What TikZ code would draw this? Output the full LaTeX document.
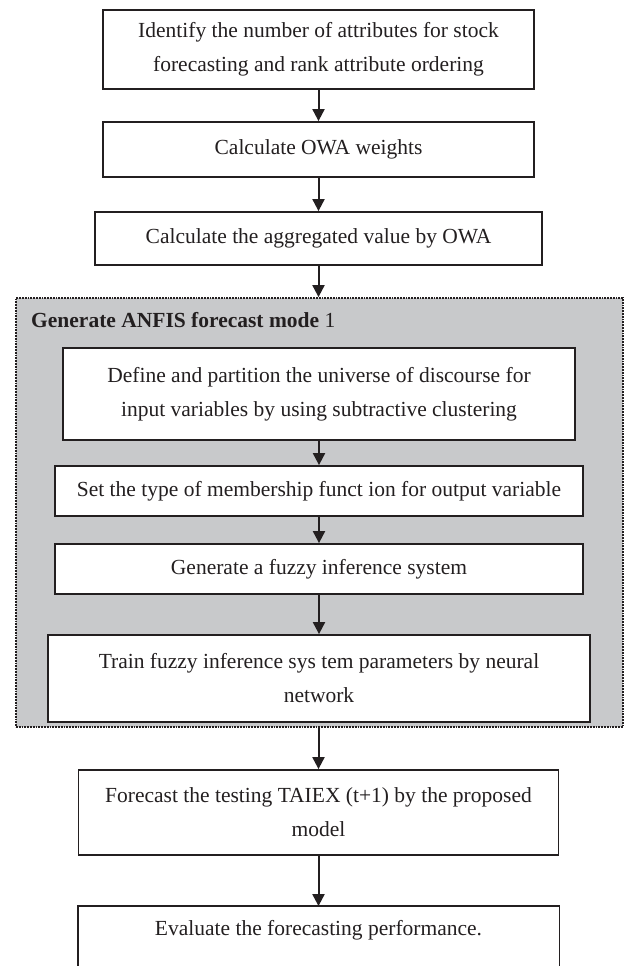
\documentclass[tikz,border=0pt]{standalone}
\usepackage{fontspec}
\setmainfont{Liberation Serif}
\usetikzlibrary{arrows.meta}
\definecolor{inkc}{HTML}{231F20}
\definecolor{panelgray}{HTML}{C8C9CB}
\begin{document}
\begin{tikzpicture}[x=1pt,y=-1pt,
  txt/.style={font=\fontsize{21.5}{34}\selectfont, text=inkc},
  stepbox/.style={txt, draw=inkc, line width=1.8pt, fill=white, inner sep=0pt, align=center},
  arr/.style={draw=inkc, line width=2pt, -{Triangle[length=12pt,width=12pt]}},
  panel/.style={draw=inkc, fill=panelgray, line width=1.8pt, densely dotted, inner sep=0pt}]
\useasboundingbox (0,0) rectangle (624,966);
\clip (0,0) rectangle (624,966);
% steps before the panel
\node[stepbox, minimum width=431pt, minimum height=79pt] (b1) at (318.5,49.5)
  {Identify the number of attributes for stock\\forecasting and rank attribute ordering};
\node[stepbox, minimum width=431pt, minimum height=55pt] (b2) at (318.5,149.5)
  {Calculate OWA weights};
\node[stepbox, minimum width=447pt, minimum height=53pt] (b3) at (318.5,238.5)
  {Calculate the aggregated value by OWA};
% ANFIS panel
\node[panel, minimum width=607pt, minimum height=429pt] (anfis) at (319.5,512.5) {};
\node[txt, anchor=west, inner sep=0pt] (ttl) at (31,320)
  {\textbf{Generate ANFIS forecast mode} 1};
\node[stepbox, minimum width=512pt, minimum height=92pt] (b4) at (319,394)
  {Define and partition the universe of discourse for\\input variables by using subtractive clustering};
\node[stepbox, minimum width=528pt, minimum height=50pt] (b5) at (319,491)
  {Set the type of membership funct ion for output variable};
\node[stepbox, minimum width=528pt, minimum height=50pt] (b6) at (319,569)
  {Generate a fuzzy inference system};
\node[stepbox, minimum width=542pt, minimum height=87pt] (b7) at (319,678.5)
  {Train fuzzy inference sys tem parameters by neural\\network};
% steps after the panel
\node[stepbox, minimum width=480pt, minimum height=85pt] (b8) at (318.5,812.5)
  {Forecast the testing TAIEX (t+1) by the proposed\\model};
\node[stepbox, draw=none, fill=none, minimum width=480pt, minimum height=46pt] (b9) at (318.5,930)
  {Evaluate the forecasting performance.};
\draw[draw=inkc, line width=1.8pt] (b9.north west) rectangle ([yshift=-80pt]b9.south east);
% connectors
\draw[arr] (b1) -- (b2);
\draw[arr] (b2) -- (b3);
\draw[arr] (b3.south) -- (b3.south |- anfis.north);
\draw[arr] (b4) -- (b5);
\draw[arr] (b5) -- (b6);
\draw[arr] (b6) -- (b7);
\draw[arr] (anfis.south -| b8.north) -- (b8.north);
\draw[arr] (b8) -- (b9.north);
\end{tikzpicture}
\end{document}
